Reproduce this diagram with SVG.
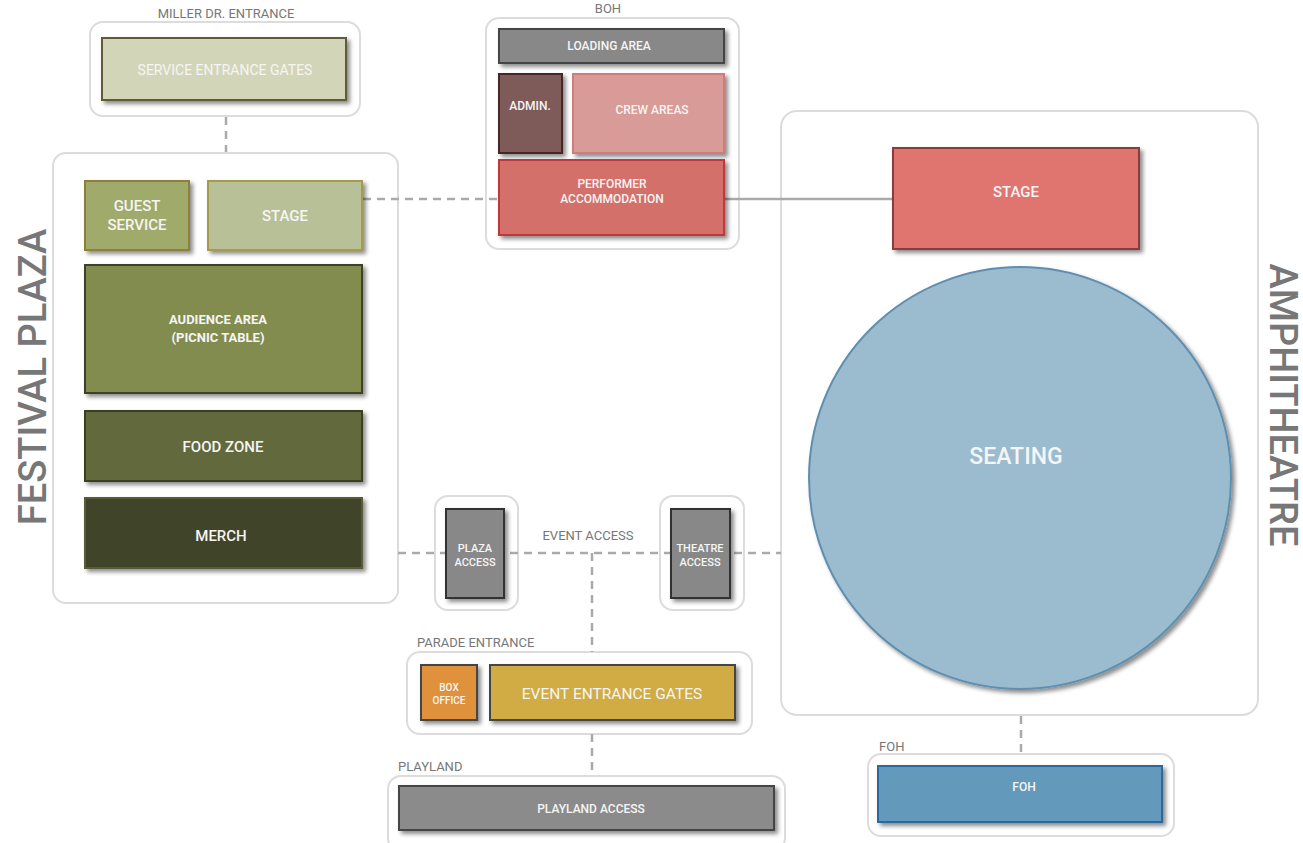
<svg xmlns="http://www.w3.org/2000/svg" width="1303" height="843" viewBox="0 0 1303 843">
<defs>
<filter id="sh" x="-10%" y="-10%" width="130%" height="140%">
<feDropShadow dx="3" dy="3" stdDeviation="2" flood-color="#000" flood-opacity="0.45"/>
</filter>
<style>
.box{fill:#fff;stroke:#dcdcdc;stroke-width:2}
.n{filter:url(#sh);stroke-width:2}
.t{font-family:Roboto,"Liberation Sans",sans-serif;fill:#f5f5f5;text-anchor:middle;dominant-baseline:central}
.lbl{font-family:Roboto,"Liberation Sans",sans-serif;fill:#777;font-size:13px}
.big{font-family:Roboto,"Liberation Sans",sans-serif;fill:#777;font-size:38px;font-weight:500;text-anchor:middle;dominant-baseline:central}
.dash{stroke:#aaa;stroke-width:2.5;stroke-dasharray:8 6;fill:none}
.solid{stroke:#aaa;stroke-width:2.5;fill:none}
</style>
</defs>
<rect width="1303" height="843" fill="#fff"/>

<g id="containers">
<rect class="box" x="90" y="22" width="270" height="94" rx="13"/>
<rect class="box" x="53" y="153" width="345" height="450" rx="13"/>
<rect class="box" x="486" y="18" width="253" height="231" rx="13"/>
<rect class="box" x="781" y="111" width="477" height="604" rx="16"/>
<rect class="box" x="435" y="496" width="83" height="114" rx="13"/>
<rect class="box" x="660" y="496" width="84" height="114" rx="13"/>
<rect class="box" x="407" y="652" width="345" height="82" rx="13"/>
<rect class="box" x="388" y="776" width="397" height="75" rx="13"/>
<rect class="box" x="868" y="754" width="306" height="82" rx="13"/>
</g>

<g id="labels">
<text class="lbl" x="226" y="18" text-anchor="middle" font-size="12">MILLER DR. ENTRANCE</text>
<text class="lbl" x="608" y="13" text-anchor="middle">BOH</text>
<text class="lbl" x="588" y="540" text-anchor="middle" font-size="14">EVENT ACCESS</text>
<text class="lbl" x="417" y="647">PARADE ENTRANCE</text>
<text class="lbl" x="398" y="771">PLAYLAND</text>
<text class="lbl" x="879" y="751">FOH</text>
<text class="big" transform="translate(33,377) rotate(-90)">FESTIVAL PLAZA</text>
<text class="big" transform="translate(1283,405) rotate(90)">AMPHITHEATRE</text>
</g>

<g id="connectors">
<line class="dash" x1="226" y1="117" x2="226" y2="152"/>
<line class="dash" x1="363" y1="199" x2="499" y2="199"/>
<line class="solid" x1="724" y1="199" x2="893" y2="199"/>
<line class="dash" x1="398" y1="553" x2="781" y2="553"/>
<line class="dash" x1="592" y1="553" x2="592" y2="652"/>
<line class="dash" x1="592" y1="734" x2="592" y2="776"/>
<line class="dash" x1="1021" y1="716" x2="1021" y2="753"/>
</g>

<g id="service-entrance-gates">
<rect class="n" x="102" y="38" width="244" height="62" fill="#d2d5b7" stroke="#5e5b36"/>
<text class="t" x="225" y="70" font-size="14" fill="#f2f3ea">SERVICE ENTRANCE GATES</text>
</g>

<g id="guest-service">
<rect class="n" x="85" y="181" width="104" height="69" fill="#a0aa6b" stroke="#8e7f3c"/>
<text class="t" x="137" y="206" font-size="15" font-weight="500">GUEST</text>
<text class="t" x="137" y="225" font-size="15" font-weight="500">SERVICE</text>
</g>
<g id="plaza-stage">
<rect class="n" x="208" y="181" width="154" height="69" fill="#b8c097" stroke="#a89a4e"/>
<text class="t" x="285" y="216" font-size="15" font-weight="500">STAGE</text>
</g>
<g id="audience-area">
<rect class="n" x="85" y="265" width="277" height="128" fill="#838c50" stroke="#3f3f25"/>
<text class="t" x="218" y="319" font-size="13" font-weight="bold">AUDIENCE AREA</text>
<text class="t" x="218" y="337" font-size="13" font-weight="bold">(PICNIC TABLE)</text>
</g>
<g id="food-zone">
<rect class="n" x="85" y="411" width="277" height="70" fill="#626b3d" stroke="#3e3e20"/>
<text class="t" x="223" y="447" font-size="15" font-weight="500">FOOD ZONE</text>
</g>
<g id="merch">
<rect class="n" x="85" y="498" width="277" height="70" fill="#41452a" stroke="#5a5b38"/>
<text class="t" x="221" y="536" font-size="15" font-weight="500">MERCH</text>
</g>

<g id="loading-area">
<rect class="n" x="499" y="29" width="225" height="34" fill="#888" stroke="#444"/>
<text class="t" x="609" y="46" font-size="12" font-weight="500">LOADING AREA</text>
</g>
<g id="admin">
<rect class="n" x="499" y="74" width="63" height="79" fill="#7e5a58" stroke="#4a2525"/>
<text class="t" x="530" y="106" font-size="12" font-weight="500">ADMIN.</text>
</g>
<g id="crew-areas">
<rect class="n" x="573" y="74" width="151" height="79" fill="#d89b98" stroke="#d07b78"/>
<text class="t" x="652" y="110" font-size="12" font-weight="500">CREW AREAS</text>
</g>
<g id="performer-accommodation">
<rect class="n" x="499" y="160" width="225" height="75" fill="#d4706a" stroke="#c0393a"/>
<text class="t" x="612" y="184" font-size="12" font-weight="500">PERFORMER</text>
<text class="t" x="612" y="199" font-size="12" font-weight="500">ACCOMMODATION</text>
</g>

<g id="amph-stage">
<rect class="n" x="893" y="148" width="246" height="101" fill="#e07570" stroke="#8a3a3a"/>
<text class="t" x="1016" y="192" font-size="15" font-weight="500">STAGE</text>
</g>
<g id="seating">
<circle class="n" cx="1020" cy="478" r="211" fill="#9bbbcf" stroke="#5f8fb0"/>
<text class="t" x="1016" y="456" font-size="23" font-weight="500">SEATING</text>
</g>

<g id="plaza-access">
<rect class="n" x="446" y="509" width="58" height="89" fill="#888" stroke="#333"/>
<text class="t" x="475" y="548" font-size="11" font-weight="500">PLAZA</text>
<text class="t" x="475" y="562" font-size="11" font-weight="500">ACCESS</text>
</g>
<g id="theatre-access">
<rect class="n" x="671" y="509" width="59" height="89" fill="#888" stroke="#333"/>
<text class="t" x="700" y="548" font-size="11" font-weight="500">THEATRE</text>
<text class="t" x="700" y="562" font-size="11" font-weight="500">ACCESS</text>
</g>

<g id="box-office">
<rect class="n" x="421" y="665" width="56" height="55" fill="#df913a" stroke="#444"/>
<text class="t" x="449" y="687" font-size="10" font-weight="500">BOX</text>
<text class="t" x="449" y="700" font-size="10" font-weight="500">OFFICE</text>
</g>
<g id="event-entrance-gates">
<rect class="n" x="490" y="665" width="245" height="55" fill="#d1ac44" stroke="#444"/>
<text class="t" x="612" y="694" font-size="15.5">EVENT ENTRANCE GATES</text>
</g>

<g id="playland-access">
<rect class="n" x="399" y="786" width="375" height="44" fill="#8b8b8b" stroke="#444"/>
<text class="t" x="591" y="809" font-size="12" font-weight="500">PLAYLAND ACCESS</text>
</g>

<g id="foh">
<rect class="n" x="878" y="766" width="284" height="56" fill="#6399bb" stroke="#2a6a9a"/>
<text class="t" x="1024" y="787" font-size="12" font-weight="500">FOH</text>
</g>
</svg>
